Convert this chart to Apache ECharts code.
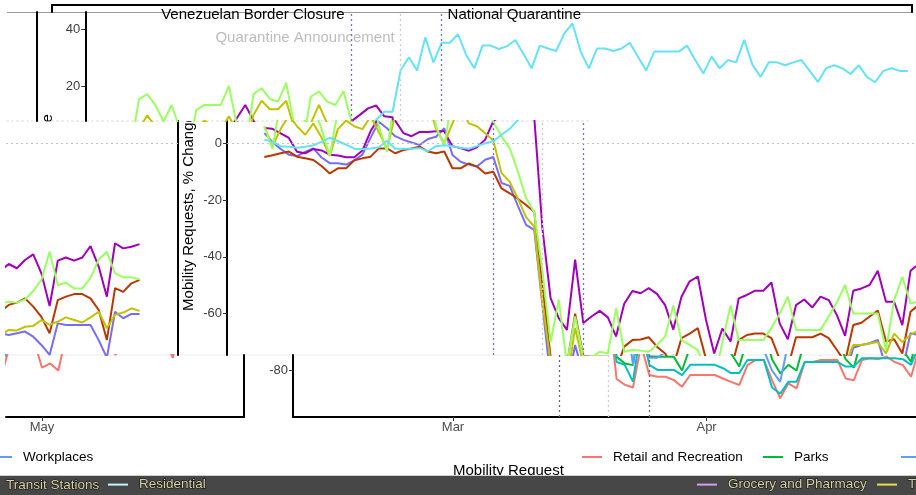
<!DOCTYPE html>
<html><head><meta charset="utf-8">
<script src="https://cdn.jsdelivr.net/npm/echarts@6/dist/echarts.min.js"></script>
<style>html,body{margin:0;padding:0;background:#fff}#c{width:916px;height:495px}</style>
</head><body><div id="c"></div>
<script>
// ---------- DATA (days counted from 1 March 2020; first day = 15 Feb) ----------
const firstDay = -15;
const dayCount = 97;
const seriesNames = ['Retail and Recreation','Grocery and Pharmacy','Parks','Transit Stations','Workplaces','Residential'];
const retail = [3.6,0.5,-2,-4,-4.5,-3,-1.8,-5,-7,-7,-7.5,-6,-4,2,7.6,
 5.3,2.5,1.2,0.3,-0.6,1.5,2.3,5.3,-4.1,-6.5,-7.5,-8.2,-5.8,-4.8,-14,-15,-22,-28.7,-30.5,
 -57,-83,-85,-86,-71,-81.6,-82.2,-82.2,-83.4,-85.7,-81.6,-81.6,-81.6,-81.6,-82.8,-84,-85.1,-78.1,-76.3,-76.3,-83.4,-89.8,
 -84.5,-86.3,-77,-77,-76.3,-76.3,-76.3,-82.8,-83.4,-76.3,-75.7,-76,-75.1,-77,-78.1,-82.2,-72,-71,-70.4,-69.2,
 -79,-77.5,-80,-66.9,-67.5,-66.9,-66.3,-68.1,-71,-74.5,-63.4,-64,-64,-64,-64,-69.3,-75.5,-59.3,-61.6,-60.1,-60.1];
const grocery = [5.4,5.1,3.5,1.9,-3,-3.5,-2,-2.5,-4,-4.3,-4.9,-4.9,-2.5,4.3,9,
 13.5,8,3.6,2.5,4,4,4.2,4.2,-1,-1.7,-2.6,-1.4,1.3,7.8,10,12.3,13.3,9.5,9.2,
 -30,-54.5,-61.6,-65.7,-41,-63.3,-61,-59,-61.3,-68,-56.5,-52,-52.8,-51,-53,-57,-65.6,-54,-48.6,-46.9,-62.2,-74,
 -65.2,-69.8,-54.6,-53.4,-51.9,-51.9,-49,-63.4,-69,-57,-55,-57.8,-54,-55.2,-60.5,-67.8,-51.9,-51.1,-49.9,-44.9,
 -55.8,-55.8,-64,-44.9,-42.5,-44,-41.1,-39.1,-45.8,-57.3,-41.3,-40.2,-41.3,-40.2,-36.2,-43.4,-54,-35.2,-37,-36.4,-35.5];
const parks = [-4.8,-4.2,-3.5,-2.9,-4.7,-5.3,-5.9,-8,-10.6,-8.8,-8.8,-6,-5.3,-4.7,-1.8,
 -1.8,-3.5,-2.4,-1.8,-1.2,-2.9,-3.5,-2.9,-8.8,-8.8,-7.1,-8.2,-10.6,-10,-15.9,-17.6,-19.5,-21.7,-24.1,
 -50,-75.2,-77.5,-78.1,-60,-75,-75.2,-75.2,-75.2,-80,-71.6,-69.3,-69.1,-68.3,-71.6,-74,-78.6,-68.6,-67,-65.1,-76,-81,
 -78,-80,-69.3,-67.5,-67,-67,-68.6,-76,-79,-68.3,-68.3,-68.3,-67,-68.6,-72.8,-77,-64,-63.2,-61,-58.9,
 -69.8,-69,-74,-59.3,-56.9,-56.1,-54.6,-57.5,-61.1,-66.9,-55.2,-54,-53.1,-53.1,-54.6,-58.7,-69.3,-51,-52.3,-49.3,-48.1];
const transit = [6,-1,5,9.8,6,3,7,2,-4.5,5,8,6,5,9.5,4,
 -2,10,15,12,12,15,5,0,7,13.5,7,6,3.5,1,-10.5,-13.5,-19.5,-26,-29.3,
 -56,-77,-78,-83.9,-65,-78,-79.8,-79.8,-79.8,-81.6,-78,-78,-78,-78,-79.2,-80.9,-80.9,-76.3,-76.3,-76.3,-86,-88.2,
 -84,-84,-77,-77,-77,-77,-77,-78.6,-78.6,-75.7,-75.7,-75.7,-75.7,-75.7,-76,-78,-71,-71,-70.5,-70,
 -74,-67,-70,-67.5,-65.7,-65.9,-64.6,-64.3,-62.2,-63.9,-62.8,-61.3,-62.2,-63.1,-61.3,-59.3,-65.1,-60.4,-59.6,-58.1,-59];
const workplaces = [6,-2,15.5,17.3,13.5,7.7,13.5,5,-4.5,11.7,13.5,13.5,13.5,20.2,6,
 -3,17.3,19.4,15.6,14.7,21.3,6,-1,16.4,18.3,14.7,13.5,18.3,7.5,2.5,-1.7,-10,-19.3,-24.3,
 -45,-70,-55,-78,-61,-75.5,-75.5,-73.4,-74,-58.1,-73.4,-72.8,-73,-73.4,-71,-68,-57.1,-69.3,-71,-72.8,-80,-84,
 -70,-57.1,-69.3,-69.3,-69.3,-69.3,-65,-60,-54,-65.7,-65.7,-65.7,-65.7,-61,-56,-49.9,-59.9,-59.9,-59.9,-59.9,
 -72.8,-55.2,-47,-56.4,-55.8,-56.1,-55,-52,-48.1,-38.2,-49.9,-49.1,-51.1,-51.1,-47.5,-40.9,-38.2,-45.8,-47.2,-47.2,-47.9];
const residential = [1.3,0.5,-1,-1.2,-1.6,-1.2,-0.7,0.5,1.9,0.8,-0.5,-1.9,-2.1,-1.8,-1.4,
 0.9,-1.9,-1.9,-1.9,-1.7,-2.8,-1,-0.7,-1,-1.6,-1.9,-1,0,0.7,3,5.1,8.2,11.1,11.1,
 25.8,30.3,25.6,37.3,28.5,35.4,35.4,38.4,31.1,26.4,34.4,34.4,33.2,34.2,36.4,31.5,26.4,34.4,33.4,32.5,38.7,42.2,
 32.3,26.4,33.4,33.4,32.5,33.4,35.4,30.5,25.6,32.3,32.3,32.3,32.3,34.4,29.3,24.6,30.5,26.4,29.3,28.5,
 36.4,27.6,23.4,28.5,28.5,27.5,28.5,29.3,25.5,21.6,26.4,27.5,26.4,24.4,27.5,23.4,21.5,25.5,26.4,25.5,25.5];
const eventDays = [13, 19, 24];
const eventNames = ['Venezuelan Border Closure','Quarantine Announcement','National Quarantine'];
const xTickDays = [0, 31, 61];
const xTickLabels = ['Mar','Apr','May'];
const yTicks = [-80,-60,-40,-20,0,20,40];
const yTitle = 'Mobility Requests, % Change';
const legendTitle = 'Mobility Request';

// ---------- STYLE / LAYOUT ----------
const values = [retail, grocery, parks, transit, workplaces, residential];
const days = Array.from({length: dayCount}, (_, i) => firstDay + i);
const normColors = ['#F8766D','#B79F00','#00BA38','#00BFC4','#619CFF','#F564E3'];
const altColors  = ['#766DF8','#9F00B7','#BA3800','#BFC400','#9CFF61','#64E3F5'];
const FONT = '"Liberation Sans", Arial, Helvetica, sans-serif';
const PXD = 8.18, X0 = 453, Y0 = 143.3, PXV = 2.84;
const dL = -19.56, dR = 85.7;
const vAt = y => (Y0 - y) / PXV;
const dAt = (x, s) => (x - s - X0) / PXD;
const xAt = (d, s) => X0 + s + PXD * d;

const bands = [
  {shift:-207.7, left:xAt(dL,-207.7), right:916, top:12, bottom:121, pal:'alt', axis:'left'},
  {shift:-1117.7, left:6, right:xAt(dR,-1117.7), top:12, bottom:121, pal:'alt', axis:'right'},
  {shift:-66, left:xAt(dL,-66), right:916, top:121, bottom:355, pal:'alt', axis:'left'},
  {shift:-976, left:6, right:xAt(dR,-976), top:121, bottom:355, pal:'alt', axis:'right'},
  {shift:0, left:xAt(dL,0), right:916, top:355, bottom:417, pal:'norm', axis:'left', xaxis:true},
  {shift:-910, left:6, right:xAt(dR,-910), top:355, bottom:417, pal:'norm', axis:'right', xaxis:true}
];

const grids = [], xAxes = [], yAxes = [], series = [];
const axisLineStyle = {color:'#000', width:2};
bands.forEach((b, gi) => {
  grids.push({left:b.left, top:b.top, width:b.right-b.left, height:b.bottom-b.top, containLabel:false, outerBoundsMode:'none', show:false});
  const xmin = dAt(b.left, b.shift), xmax = dAt(b.right, b.shift);
  const ymin = vAt(b.bottom), ymax = vAt(b.top);
  const xt = xTickDays.filter(d => d >= xmin && d <= xmax);
  const yt = yTicks.filter(v => v >= ymin && v <= ymax);
  xAxes.push({gridIndex:gi, type:'value', min:xmin, max:xmax, show:!!b.xaxis, position:'bottom',
    axisLine:{show:true, onZero:false, lineStyle:axisLineStyle},
    axisTick:{show:true, length:4, lineStyle:{color:'#333', width:1}, customValues:xt},
    axisLabel:{show:true, customValues:xt, margin:4, fontSize:13, color:'#4d4d4d', fontFamily:FONT,
      formatter: v => xTickLabels[xTickDays.indexOf(Math.round(v))] || ''},
    splitLine:{show:false}});
  const left = b.axis === 'left';
  yAxes.push({gridIndex:gi, type:'value', min:ymin, max:ymax, position:b.axis,
    axisLine:{show:true, onZero:false, lineStyle:axisLineStyle},
    axisTick:{show:left, length:4, lineStyle:{color:'#333', width:1}, customValues:yt},
    axisLabel:{show:left, customValues:yt, margin:5, fontSize:13, color:'#3d3d3d', fontFamily:FONT},
    splitLine:{show:false}});
  const pal = b.pal === 'alt' ? altColors : normColors;
  const dark = b.pal === 'alt' ? '#7474c4' : '#6b6b6b';
  const ml = [];
  eventDays.forEach((d, k) => {
    if (d >= xmin && d <= xmax) ml.push({xAxis:d, lineStyle:{color: k === 1 ? '#cdcdcd' : dark, width:1.3, type:[2,3]}});
  });
  if (0 >= ymin && 0 <= ymax) ml.push({yAxis:0, lineStyle:{color:'#c4c4c4', width:1, type:[2,3]}});
  seriesNames.forEach((name, si) => {
    series.push({type:'line', name, xAxisIndex:gi, yAxisIndex:gi, showSymbol:false, symbol:'none', clip:true, silent:true, z:2,
      lineStyle:{width:2, color:pal[si]}, itemStyle:{color:pal[si]},
      data: days.map((d, i) => [d, values[si][i]]),
      markLine: si === 0 && ml.length ? {silent:true, symbol:['none','none'], label:{show:false}, animation:false, data:ml} : undefined});
  });
});
// top strip (panel top border)
const gt = grids.length;
grids.push({left:52, top:5, width:860, height:7, containLabel:false, outerBoundsMode:'none', show:false});
xAxes.push({gridIndex:gt, type:'value', min:0, max:1, position:'top', axisLine:{show:true, onZero:false, lineStyle:axisLineStyle}, axisTick:{show:false}, axisLabel:{show:false}, splitLine:{show:false}});
yAxes.push({gridIndex:gt, type:'value', min:0, max:1, position:'left', axisLine:{show:true, onZero:false, lineStyle:axisLineStyle}, axisTick:{show:false}, axisLabel:{show:false}, splitLine:{show:false}});
yAxes.push({gridIndex:gt, type:'value', min:0, max:1, position:'right', axisLine:{show:true, onZero:false, lineStyle:axisLineStyle}, axisTick:{show:false}, axisLabel:{show:false}, splitLine:{show:false}});

// legends
const legTxt = {fontSize:13.5, fontFamily:FONT, color:'#000', padding:[0,0,0,6]};
const row2Txt = {fontSize:13.5, fontFamily:FONT, color:'#d9d3a6', textBorderColor:'#111', textBorderWidth:1.2, padding:[0,0,0,6]};
const mkLeg = (name, color, left, top, ts, z) => ({left, top, padding:0, itemWidth:20, itemHeight:2, icon:'rect', selectedMode:false, z:z||4,
  data:[{name, itemStyle:{color}}], textStyle:ts});
const legends = [
  mkLeg(seriesNames[0], normColors[0], 582, 450, legTxt),
  mkLeg(seriesNames[2], normColors[2], 763, 450, legTxt),
  mkLeg(seriesNames[4], normColors[4], 901, 450, legTxt),
  mkLeg(seriesNames[4], normColors[4], -8, 450, legTxt),
  mkLeg(seriesNames[1], '#d99ef2', 697, 477, row2Txt, 10),
  mkLeg(seriesNames[3], '#e6e24c', 877, 477, row2Txt, 10),
  mkLeg(seriesNames[5], '#c4f4fb', 108, 477, row2Txt, 10)
];

const txt = (text, x, y, opt) => Object.assign({type:'text', x, y, z:0, style:Object.assign({text, fill:'#000', fontSize:15, fontFamily:FONT,
  align:'left', verticalAlign:'middle', textAlign:'left', textVerticalAlign:'middle'}, opt||{})}, {});
const sA = -207.7;
const graphics = [
  {type:'line', z:0, shape:{x1:7, y1:12.5, x2:913, y2:12.5}, style:{stroke:'#9a9a9a', lineWidth:1}},
  {type:'line', z:0, shape:{x1:6, y1:121, x2:590, y2:121}, style:{stroke:'#dedede', lineWidth:1, lineDash:[3,2]}},
  {type:'line', z:0, shape:{x1:6, y1:355, x2:916, y2:355}, style:{stroke:'#ececec', lineWidth:1}},
  txt(eventNames[0], xAt(eventDays[0], sA) - 7, 14.5, {align:'right', textAlign:'right'}),
  txt(eventNames[1], xAt(eventDays[1], sA) - 6, 38, {align:'right', textAlign:'right', fill:'#bdbdbd'}),
  txt(eventNames[2], xAt(eventDays[2], sA) + 6, 14.5),
  Object.assign(txt(yTitle, 189, 212.5, {align:'center', textAlign:'center'}), {rotation:Math.PI/2}),
  Object.assign(txt(yTitle, 48, 212.5, {align:'center', textAlign:'center'}), {rotation:Math.PI/2}),
  {type:'rect', z:1, shape:{x:38, y:121.5, width:18, height:215}, style:{fill:'#fff'}},
  {type:'rect', z:1, shape:{x:179.5, y:92, width:18, height:29}, style:{fill:'#fff'}},
  txt(legendTitle, 453, 470.5),
  {type:'line', z:5, shape:{x1:0, y1:475.5, x2:916, y2:475.5}, style:{stroke:'#cfcfcf', lineWidth:1}},
  {type:'rect', z:6, shape:{x:0, y:476, width:916, height:19}, style:{fill:'#474747'}},
  Object.assign(txt(seriesNames[3], 6, 485.5, {fontSize:13.5, fill:'#d9d3a6', stroke:'#111', lineWidth:1.2}), {z:11})
];

const chart = echarts.init(document.getElementById('c'), null, {renderer:'canvas'});
chart.setOption({
  animation:false, backgroundColor:'#fff',
  grid:grids, xAxis:xAxes, yAxis:yAxes, series, legend:legends, graphic:{elements:graphics}
});
</script></body></html>
